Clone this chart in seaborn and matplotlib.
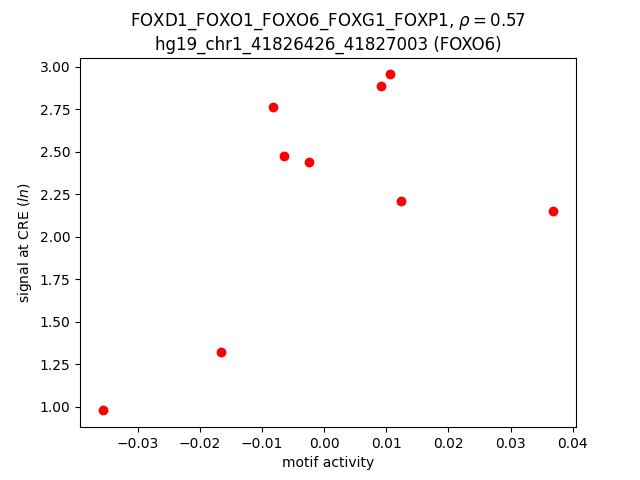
import matplotlib
matplotlib.use("Agg")
import matplotlib.pyplot as plt
import seaborn as sns
import pandas as pd

motif_activity = [-0.0357, -0.0166, -0.0082, -0.0065, -0.0024, 0.0092, 0.01065, 0.0124, 0.0369]
signal = [0.980, 1.322, 2.763, 2.476, 2.441, 2.885, 2.956, 2.214, 2.153]

df = pd.DataFrame({"x": motif_activity, "y": signal})

fig, ax = plt.subplots(figsize=(6.4, 4.8), dpi=100)
sns.scatterplot(data=df, x="x", y="y", color="red", s=50, linewidth=0, ax=ax)
ax.set_xlabel("motif activity")
ax.set_ylabel(r"signal at CRE ($\it{ln}$)")
ax.set_title("FOXD1_FOXO1_FOXO6_FOXG1_FOXP1, $\\rho = 0.57$\nhg19_chr1_41826426_41827003 (FOXO6)")
fig.savefig("out.png", dpi=100)
